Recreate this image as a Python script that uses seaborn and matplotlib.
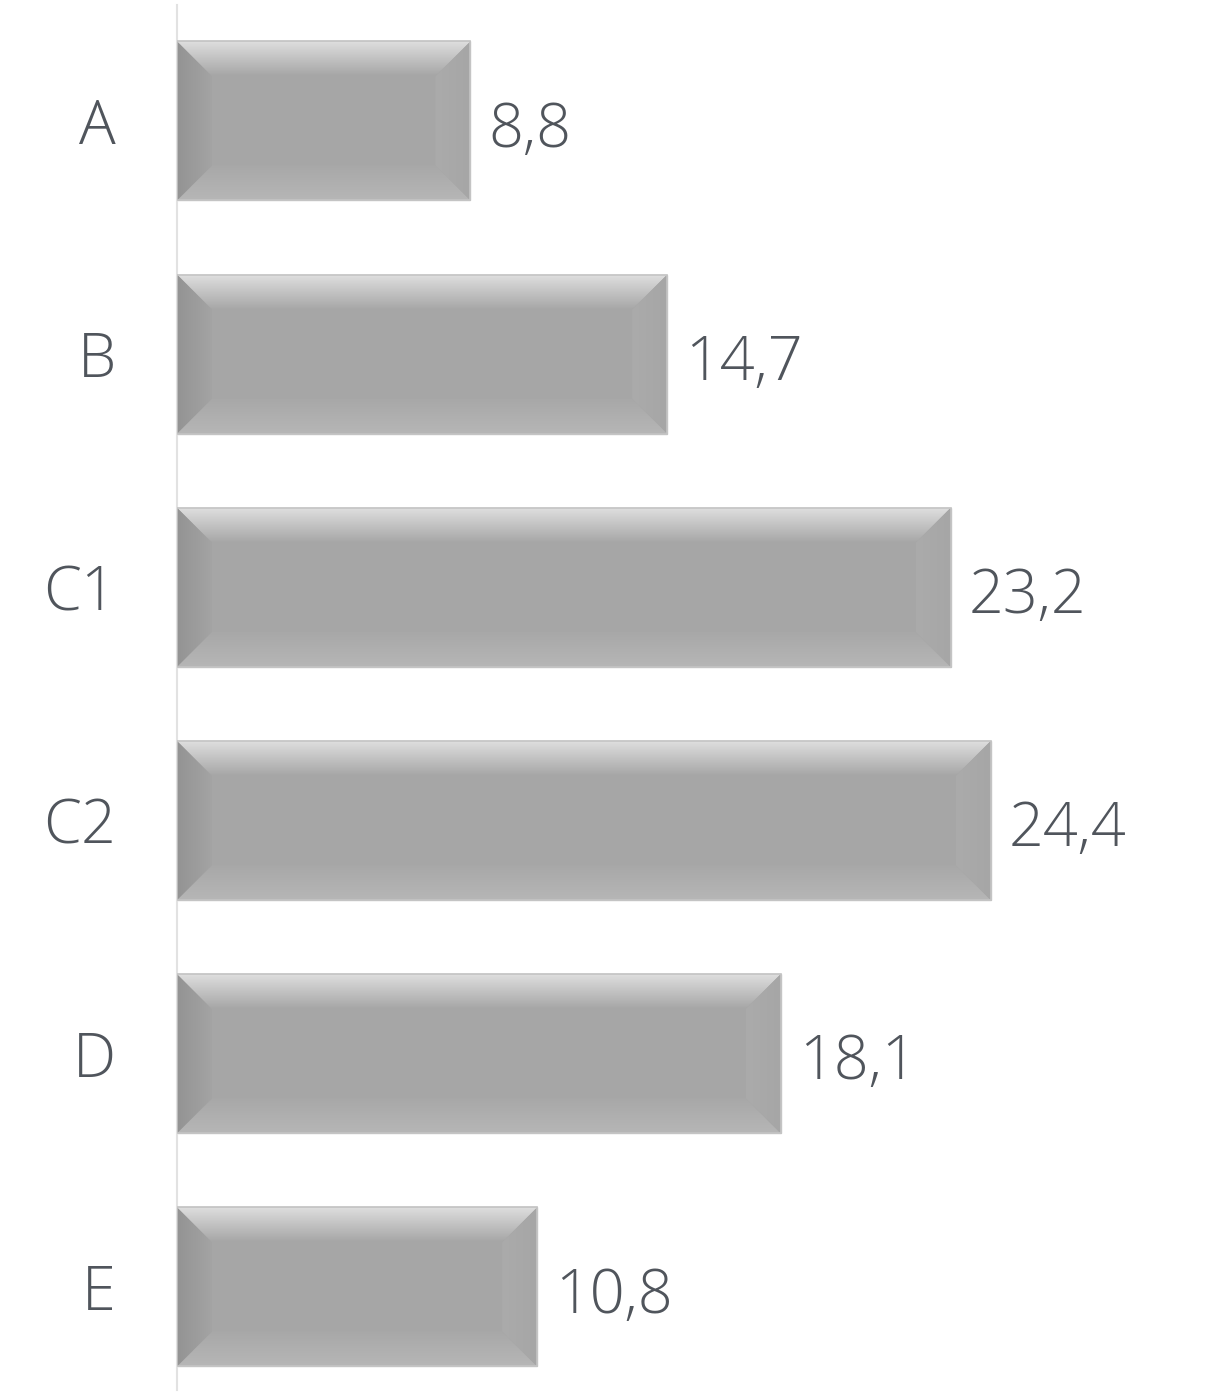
import matplotlib
matplotlib.use("Agg")
import matplotlib.pyplot as plt
import seaborn as sns
import numpy as np
import pandas as pd
from matplotlib.patches import Polygon

categories = ["A", "B", "C1", "C2", "D", "E"]
values = [8.8, 14.7, 23.2, 24.4, 18.1, 10.8]
value_labels = ["8,8", "14,7", "23,2", "24,4", "18,1", "10,8"]

sns.set_theme(style="white")
plt.rcParams['font.family'] = ['Open Sans', 'DejaVu Sans']

W, H, DPI = 1224, 1396, 100
fig = plt.figure(figsize=(W / DPI, H / DPI), dpi=DPI)
ax = fig.add_axes([177 / W, 1 - 1390 / H, 1 - 177 / W, 1385 / H])

df = pd.DataFrame({"cat": categories, "val": values})
sns.barplot(data=df, x="val", y="cat", ax=ax, color="#A6A6A6", saturation=1,
            width=0.682, edgecolor="#C4C4C4", linewidth=1.0, zorder=2)

ax.set_xlim(0, (W - 177) / 33.35)
ax.set_ylim(5.442, -0.497)
ax.set_xlabel("")
ax.set_ylabel("")
ax.set_xticks([])
for s in ["top", "right", "bottom"]:
    ax.spines[s].set_visible(False)
ax.spines["left"].set_color("#E2E2E2")
ax.spines["left"].set_linewidth(1.5)
ax.tick_params(axis="y", length=0, pad=44, labelsize=44, labelcolor="#50555C")
for t in ax.get_yticklabels():
    t.set_fontweight("light")

fig.canvas.draw()
px_per_x = ax.transData.transform((1, 0))[0] - ax.transData.transform((0, 0))[0]
px_per_y = abs(ax.transData.transform((0, 1))[1] - ax.transData.transform((0, 0))[1])
bev = 35
dx = bev / px_per_x
dy = bev / px_per_y

def grad_fill(poly, c0, c1, direction, ax):
    verts = poly.get_xy()
    xmin, xmax = verts[:, 0].min(), verts[:, 0].max()
    ymin, ymax = verts[:, 1].min(), verts[:, 1].max()
    c0 = np.array(matplotlib.colors.to_rgb(c0))
    c1 = np.array(matplotlib.colors.to_rgb(c1))
    t = np.linspace(0, 1, 64)
    if direction == "top":
        img = (c0[None, :] * (1 - t[:, None]) + c1[None, :] * t[:, None])[:, None, :]
        ext = (xmin, xmax, ymax, ymin)
    elif direction == "bottom":
        img = (c1[None, :] * (1 - t[:, None]) + c0[None, :] * t[:, None])[:, None, :]
        ext = (xmin, xmax, ymax, ymin)
    elif direction == "left":
        img = (c0[None, :] * (1 - t[:, None]) + c1[None, :] * t[:, None])[None, :, :]
        ext = (xmin, xmax, ymin, ymax)
    else:
        img = (c1[None, :] * (1 - t[:, None]) + c0[None, :] * t[:, None])[None, :, :]
        ext = (xmin, xmax, ymin, ymax)
    im = ax.imshow(img, extent=ext, origin="upper", aspect="auto", zorder=3,
                   interpolation="bilinear")
    im.set_extent(ext)
    im.set_clip_path(poly)

for p, lab in zip(ax.patches, value_labels):
    x0 = p.get_x()
    y0 = p.get_y()
    w = p.get_width()
    h = p.get_height()
    x1 = x0 + w
    y1 = y0 + h
    top = Polygon([(x0, y0), (x1, y0), (x1 - dx, y0 + dy), (x0 + dx, y0 + dy)], closed=True,
                  facecolor="none", edgecolor="none")
    bot = Polygon([(x0, y1), (x1, y1), (x1 - dx, y1 - dy), (x0 + dx, y1 - dy)], closed=True,
                  facecolor="none", edgecolor="none")
    lef = Polygon([(x0, y0), (x0 + dx, y0 + dy), (x0 + dx, y1 - dy), (x0, y1)], closed=True,
                  facecolor="none", edgecolor="none")
    rig = Polygon([(x1, y0), (x1 - dx, y0 + dy), (x1 - dx, y1 - dy), (x1, y1)], closed=True,
                  facecolor="none", edgecolor="none")
    for poly in (top, bot, lef, rig):
        ax.add_patch(poly)
    grad_fill(top, "#DEDEDE", "#A6A6A6", "top", ax)
    grad_fill(bot, "#B6B6B6", "#A8A8A8", "bottom", ax)
    grad_fill(lef, "#939393", "#A4A4A4", "left", ax)
    grad_fill(rig, "#A6A6A6", "#ABABAB", "right", ax)
    ax.add_patch(Polygon([(x0, y0), (x1, y0), (x1, y1), (x0, y1)], closed=True,
                         facecolor="none", edgecolor="#C4C4C4", linewidth=1.2, zorder=4))
    ax.text(x1 + 18 / px_per_x, (y0 + y1) / 2 + 10 / px_per_y, lab, ha="left", va="center",
            fontsize=44, color="#50555C", fontweight="light", zorder=5)

ax.set_xlim(0, (W - 177) / 33.35)
ax.set_ylim(5.442, -0.497)
fig.savefig("out.png", dpi=DPI)
